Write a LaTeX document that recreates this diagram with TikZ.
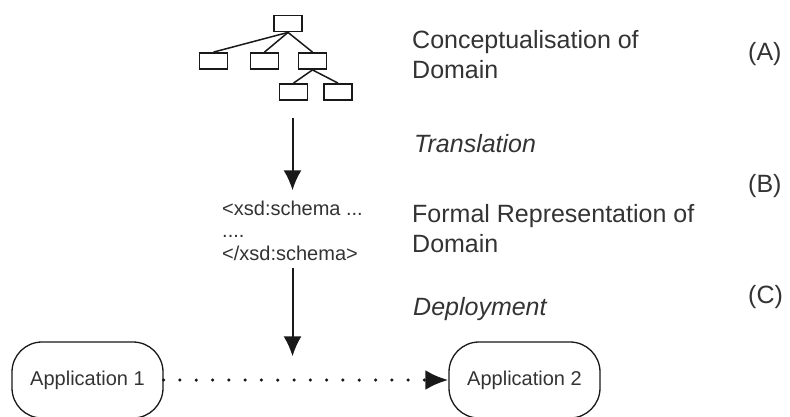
\documentclass[tikz,border=0pt]{standalone}
\usepackage{fontspec}
\setmainfont{Liberation Sans}
\usetikzlibrary{arrows.meta, positioning}

\begin{document}
\begin{tikzpicture}[x=1pt, y=-1pt, >={Latex[width=18pt,length=20pt]}, on grid,
        leaf/.style={draw=black!90, line width=1.8pt, minimum width=28pt, minimum height=16pt, inner sep=0pt},
        app/.style={draw=black!90, line width=1.3pt, rounded corners=30pt, minimum width=151pt, minimum height=76pt,
            text=black!80, font=\fontsize{20}{24}\selectfont},
        stage/.style={anchor=base west, align=left, inner sep=0pt, text=black!80, font=\fontsize{25}{30}\selectfont},
        xsd/.style={anchor=base west, align=left, inner sep=0pt, text=black!80, font=\fontsize{20}{22.5}\selectfont},
        msg/.style={line width=3.5pt, dash pattern=on 0pt off 16.3pt, line cap=round}]
        \useasboundingbox (0,0) rectangle (790,416);
        % domain tree
        \node[leaf] (n0) at (288,23.5) {};
        \node[leaf] (n1) [below left=37.5pt and 74.5pt of n0] {};
        \node[leaf] (n2) [below left=37.5pt and 23.5pt of n0] {};
        \node[leaf] (n3) [below right=37.5pt and 24.5pt of n0] {};
        \node[leaf] (n4) [below left=31pt and 19pt of n3] {};
        \node[leaf] (n5) [below right=31pt and 25.5pt of n3] {};
        \path[draw=black!90, line width=1.5pt]
        (n0.south) edge (n1.north)
        (n0.south) edge (n2.north)
        (n0.south) edge (n3.north)
        (n3.south) edge (n4.north)
        (n3.south) edge (n5.north)
        ;
        % base anchor of a multi-line node sits on its last line
        \node[xsd] (schema) at (222,260) {<xsd:schema ...\\....\\</xsd:schema>};
        \node[app] (app1) at (87.5,380) {Application 1};
        \node[app] (app2) at (524.5,380) {Application 2};
        % stage labels
        \node[stage] (concept) at (412,78) {Conceptualisation of\\Domain};
        \node[stage] (trans) at (414,152) {\itshape Translation};
        \node[stage] (formal) at (412,252) {Formal Representation of\\Domain};
        \node[stage] (deploy) at (413,315) {\itshape Deployment};
        \node[stage] (la) at (748,60) {(A)};
        \node[stage] (lb) at (748,192) {(B)};
        \node[stage] (lc) at (748,303) {(C)};
        \draw[->, line width=2pt, black!90] ([yshift=-17pt]schema.north |- n4.south) -- ([yshift=10pt]schema.north);
        \draw[->, line width=2pt, black!90] ([yshift=-8pt]schema.south) -- ([yshift=-15pt]schema.south |- app1.north);
        \draw[-{Latex[width=20pt,length=23pt]}, msg, black!90] (app1) -- (app2);
    \end{tikzpicture}
\end{document}
